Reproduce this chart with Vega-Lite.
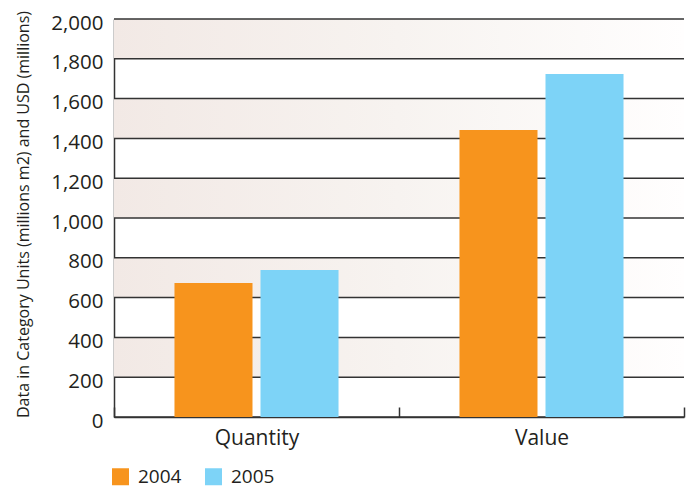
{
  "$schema": "https://vega.github.io/schema/vega-lite/v6.json",
  "width": 570,
  "height": 398,
  "autosize": {"type": "none"},
  "padding": {"left": 114, "top": 19, "right": 8, "bottom": 71},
  "background": "white",
  "config": {"view": {"stroke": null}, "font": "Open Sans"},
  "encoding": {
    "y": {
      "field": "v",
      "type": "quantitative",
      "scale": {"domain": [0, 2000], "nice": false},
      "axis": {
        "title": "Data in Category Units (millions m2) and USD (millions)",
        "titleFontSize": 16,
        "titleFontWeight": "normal",
        "titleColor": "#231f20",
        "titleX": -86,
        "titleY": 195,
        "titleAngle": -90,
        "titleAlign": "center",
        "titleBaseline": "alphabetic",
        "values": [0, 200, 400, 600, 800, 1000, 1200, 1400, 1600, 1800, 2000],
        "format": ",d",
        "labelOverlap": false,
        "labelFlush": false,
        "grid": false,
        "ticks": false,
        "labelFontSize": 20.5,
        "labelColor": "#231f20",
        "labelPadding": 11,
        "labelOffset": 4,
        "labelBaseline": "middle",
        "domainColor": "#333333",
        "domainWidth": 1.5
      }
    }
  },
  "layer": [
    {
      "data": {"values": [
        {"v": 1800, "v2": 2000},
        {"v": 1400, "v2": 1600},
        {"v": 1000, "v2": 1200},
        {"v": 600, "v2": 800},
        {"v": 200, "v2": 400}
      ]},
      "mark": {
        "type": "rect",
        "color": {
          "gradient": "linear",
          "x1": 0, "y1": 0, "x2": 1, "y2": 0,
          "stops": [
            {"offset": 0, "color": "#f2e9e5"},
            {"offset": 0.5, "color": "#f7f3f0"},
            {"offset": 1, "color": "#fffefe"}
          ]
        }
      },
      "encoding": {
        "y2": {"field": "v2"}
      }
    },
    {
      "data": {"values": [
        {"v": 0}, {"v": 200}, {"v": 400}, {"v": 600}, {"v": 800}, {"v": 1000},
        {"v": 1200}, {"v": 1400}, {"v": 1600}, {"v": 1800}, {"v": 2000}
      ]},
      "mark": {"type": "rule", "color": "#333333", "strokeWidth": 1.5},
      "encoding": {}
    },
    {
      "data": {"values": [
        {"measure": "Quantity", "year": "2004", "v": 673},
        {"measure": "Quantity", "year": "2005", "v": 739},
        {"measure": "Value", "year": "2004", "v": 1442},
        {"measure": "Value", "year": "2005", "v": 1724}
      ]},
      "mark": {"type": "bar"},
      "encoding": {
        "x": {
          "field": "measure",
          "type": "nominal",
          "sort": ["Quantity", "Value"],
          "scale": {"paddingInner": 0, "paddingOuter": 0},
          "axis": {
            "title": null,
            "labelAngle": 0,
            "labelFontSize": 21,
            "labelColor": "#231f20",
            "labelPadding": 20,
            "tickBand": "extent",
            "tickSize": -10,
            "tickColor": "#333333",
            "tickWidth": 1.5,
            "domainColor": "#333333",
            "domainWidth": 1.5
          }
        },
        "xOffset": {
          "field": "year",
          "type": "nominal",
          "scale": {"paddingInner": 0.093, "paddingOuter": 0.703}
        },
        "color": {
          "field": "year",
          "type": "nominal",
          "scale": {"domain": ["2004", "2005"], "range": ["#f7941d", "#7dd3f7"]},
          "legend": {
            "title": null,
            "orient": "none",
            "legendX": -3,
            "legendY": 448,
            "direction": "horizontal",
            "symbolType": "square",
            "symbolSize": 289,
            "symbolStrokeWidth": 0,
            "labelFontSize": 19,
            "labelColor": "#231f20",
            "labelOffset": 8,
            "columnPadding": 22
          }
        }
      }
    }
  ]
}
